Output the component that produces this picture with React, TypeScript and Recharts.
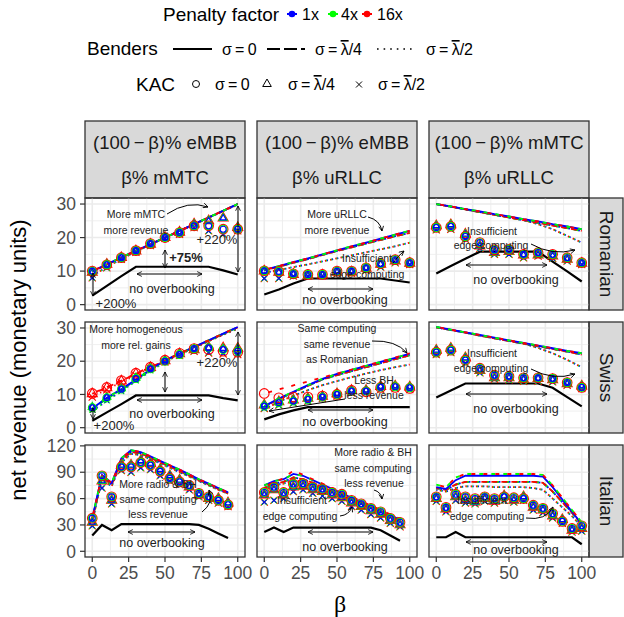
import React from 'react';
import { ComposedChart, Line, XAxis, YAxis, CartesianGrid } from 'recharts';

// beta grids
const betaTen = [0, 10, 20, 30, 40, 50, 60, 70, 80, 90, 100];
const betaIta15 = [0, 6.67, 13.33, 20, 26.67, 33.33, 40, 46.67, 53.33, 60, 66.67, 73.33, 80, 86.67, 93.33];
const betaIta16 = [0, 6.67, 13.33, 20, 26.67, 33.33, 40, 46.67, 53.33, 60, 66.67, 73.33, 80, 86.67, 93.33, 100];

const xTicks = [0, 25, 50, 75, 100];
const xMinor = [12.5, 37.5, 62.5, 87.5];
const yTicksSmall = [0, 10, 20, 30];
const yMinorSmall = [5, 15, 25];
const yTicksIta = [0, 30, 60, 90, 120];
const yMinorIta = [15, 45, 75, 105];

// Romanian, eMBB / mMTC
const romEmS0 = [10, 12, 14.1, 16.1, 18, 20, 22, 24, 26, 28, 30];
const romEmS4 = [9.8, 11.9, 14, 16, 18, 20, 22, 24, 26, 28, 30];
const romEmS2 = [8.6, 11.2, 13.6, 15.8, 17.9, 19.9, 21.9, 23.9, 25.9, 27.9, 29.8];
const romEmK0 = [10, 11.9, 14, 16.1, 18.2, 20, 21.5, 23.5, 23.5, 22.5, 22.5];
const romEmK4 = [9.6, 12, 14, 16, 18, 20, 21.6, 24, 25, 25.8, 23];
const romEmK2 = [8, 11, 13.5, 15.6, 17.6, 19.8, 21, 23, 22, 21, 22];
const romEmNo = [2.7, 5.6, 8.5, 11.3, 11.3, 11.3, 11.3, 11.3, 11.3, 10.2, 9];

// Romanian, eMBB / uRLLC
const romEuS0 = [10.4, 11.5, 12.7, 13.8, 15, 16.2, 17.4, 18.5, 19.7, 20.9, 22];
const romEuS4 = [10.2, 11.3, 12.5, 13.6, 14.8, 16, 17.1, 18.2, 19.3, 20.4, 21.4];
const romEuS2 = [9.5, 10.3, 11.2, 12, 12.9, 13.8, 14.7, 15.6, 16.5, 17.4, 18.5];
const romEuK0 = [10.1, 9.9, 9.2, 9, 9, 10, 10, 11, 12.2, 13.4, 12.5];
const romEuK4 = [10, 9.6, 9, 8.6, 8.8, 9.6, 9.7, 10.8, 12, 13, 12.3];
const romEuK2 = [7.8, 7.8, 8.5, 8.5, 8.6, 9.2, 9.3, 10.2, 11.2, 12.5, 12];
const romEuNo = [3, 4.5, 6.3, 7.8, 7.8, 7.8, 7.8, 7.8, 7.8, 7.2, 6.6];

// Romanian, mMTC / uRLLC
const romMuS0 = [30, 29.3, 28.5, 27.8, 27, 26.3, 25.5, 24.8, 24, 23.3, 22.5];
const romMuS4 = [30, 29.2, 28.4, 27.6, 26.8, 26, 25.2, 24.4, 23.6, 22.8, 22];
const romMuS2 = [30, 29.2, 28.4, 27.6, 26.8, 26, 25.2, 24, 22.5, 20.5, 18.5];
const romMuK0 = [23, 23.3, 20.3, 18.5, 16.4, 16.5, 15, 15.5, 15, 14, 12.5];
const romMuK4 = [23.5, 23.8, 21, 17.5, 15.5, 15.8, 14.8, 14.8, 14.5, 13.5, 12.3];
const romMuK2 = [22.3, 22.5, 19.5, 16.8, 15, 15, 14, 14.5, 13.8, 13, 12];
const romMuNo = [9.3, 11.5, 13.7, 15.8, 15.8, 15.8, 15.8, 15.8, 12.8, 9.9, 6.9];

// Swiss, eMBB / mMTC
const swiEmS0 = [5.8, 9, 11.6, 14.5, 17.5, 20.3, 22.3, 24.3, 26.3, 28.3, 30.3];
const swiEmS0Red = [10.3, 12.2, 14.2, 16.3, 18.3, 20.3, 22.3, 24.3, 26.3, 28.3, 30.3];
const swiEmS4 = [5.6, 8.8, 11.4, 14.4, 17.4, 20.2, 22.2, 24.2, 26.2, 28.2, 30.2];
const swiEmS4Red = [10.2, 12.1, 14.1, 16.2, 18.2, 20.2, 22.2, 24.2, 26.2, 28.2, 30.2];
const swiEmS2 = [5, 8, 11, 14, 17, 19.8, 22, 24, 26, 28, 29.8];
const swiEmS2Red = [9.3, 11.5, 13.7, 15.8, 17.9, 20, 22, 24, 26, 28, 29.8];
const swiEmK0 = [6, 9, 11.6, 14.8, 17.7, 20, 22, 23.8, 24, 23.5, 23];
const swiEmK0Red = [10.3, 12.1, 14.2, 16.4, 18.2, 20.3, 22.4, 23.8, 23.5, 23, 22.7];
const swiEmK4 = [6.2, 9.2, 11.8, 15, 17.8, 20.2, 22.2, 23.5, 24, 23.8, 23.8];
const swiEmK4Red = [10.2, 12, 14, 16.2, 18.1, 20.1, 22.2, 23.4, 24.2, 24, 23.9];
const swiEmK2 = [5.4, 8.2, 11, 14.2, 17.2, 19.6, 21.6, 23, 22.6, 22.4, 22.2];
const swiEmK2Red = [9.2, 11.4, 13.6, 15.7, 17.8, 19.8, 21.8, 23, 22.5, 22.2, 22];
const swiEmNo = [2.1, 4.6, 7.1, 9.7, 9.7, 9.7, 9.7, 9.7, 9.7, 8.9, 8.2];

// Swiss, eMBB / uRLLC
const swiEuS0 = [6.5, 8.8, 10.8, 12.8, 14.7, 16.2, 17.4, 18.6, 19.8, 21, 22.3];
const swiEuS0Red = [10.3, 11.5, 12.7, 13.9, 15.1, 16.3, 17.5, 18.7, 19.9, 21.1, 22.4];
const swiEuS4 = [6.3, 8.6, 10.6, 12.6, 14.5, 15.8, 17, 18.2, 19.4, 20.6, 21.8];
const swiEuS2 = [5.5, 7.8, 9.6, 11.3, 12.8, 14, 15.2, 16.3, 17.3, 18.2, 19];
const swiEuK0 = [6.5, 7.5, 8, 8.5, 9.2, 10, 11, 11, 12.2, 12.3, 12];
const swiEuK0Red = [10.3, 9, 9.2, 9.2, 9.5, 10, 11.2, 10.8, 12.1, 12.1, 11.8];
const swiEuK4 = [6.8, 7.8, 8.3, 8.8, 9.4, 10.2, 11.2, 11.2, 12.4, 12.5, 12.2];
const swiEuK2 = [5.8, 6.8, 7.4, 8, 8.8, 9.5, 10.5, 10.5, 11.5, 11.8, 11.5];
const swiEuNo = [2.5, 4, 5.2, 6.2, 6.2, 6.2, 6.2, 6.2, 6.2, 6.2, 6.2];

// Swiss, mMTC / uRLLC
const swiMuS0 = [30.3, 29.5, 28.7, 27.9, 27.1, 26.3, 25.5, 24.7, 23.9, 23.1, 22.4];
const swiMuS4 = [30.2, 29.4, 28.6, 27.7, 26.9, 26.1, 25.3, 24.5, 23.7, 22.9, 22];
const swiMuS2 = [30.2, 29.4, 28.6, 27.7, 26.9, 26.1, 25.3, 24, 22.4, 20.4, 18.2];
const swiMuK0 = [22.7, 23.3, 20.3, 17.9, 15.8, 15.5, 15, 15, 14.8, 13.6, 12.1];
const swiMuK4 = [23.3, 23.9, 21, 17.2, 15, 15, 14.5, 14.8, 14.4, 13.2, 12.5];
const swiMuK2 = [22, 22.6, 19.4, 16.5, 14.6, 14.4, 14, 14, 13.8, 12.8, 11.8];
const swiMuNo = [9.1, 11.2, 13.3, 13.3, 13.3, 13.3, 13.3, 13.3, 12, 9.2, 6.4];

// Italian, eMBB / mMTC
const itaEmS0 = [37.7, 86.9, 77.7, 106, 115, 113, 108, 103, 98, 93, 87.5, 82, 77, 72, 67];
const itaEmS4 = [36, 85, 76, 104, 113, 111.5, 106.5, 101.5, 96.5, 91.5, 86, 81, 76, 71, 66];
const itaEmS2 = [33, 82, 74, 101, 111, 109.5, 105, 100, 95, 90, 85, 80, 75, 70, 65.5];
const itaEmK0 = [37.7, 86, 62, 96, 96, 101, 98, 91, 83, 79, 75, 66, 62, 58, 53];
const itaEmK4 = [33, 80, 58, 98, 98, 103, 100, 93, 86, 81, 73, 64, 60, 60, 55];
const itaEmK2 = [29, 72, 54, 92, 90, 95, 93, 86, 80, 76, 70, 62, 58, 55, 51];
const itaEmNo = [18, 30, 24, 31, 31, 31, 31, 31, 31, 31, 31, 30, 25.7, 20.3, 15];

// Italian, eMBB / uRLLC
const itaEuS0 = [75, 80, 82, 88, 86, 81, 76, 71, 66, 61, 56, 51, 46, 41, 36];
const itaEuS0Red = [73, 79, 83, 92, 87, 82, 77, 72, 67, 62, 57, 52, 47, 42, 37];
const itaEuS4 = [72, 77, 79, 84, 82, 78, 73, 68, 63, 58.5, 54, 49, 44, 39, 35];
const itaEuS2 = [70, 75, 77, 81, 79, 75, 71, 66, 61, 56, 52, 47, 42, 38, 33];
const itaEuK0 = [67, 73, 67, 76.6, 77, 73, 71, 67, 65, 58, 54, 49, 45, 37.6, 33];
const itaEuK4 = [64, 70, 64, 73, 74, 70, 68, 64, 61, 55, 51, 46, 42, 35, 30];
const itaEuK2 = [56, 58, 60, 68, 70, 66, 63, 60, 57, 51, 47, 42, 38, 32, 28];
const itaEuNo = [22, 27, 22, 27, 27, 27, 27, 27, 27, 27, 27, 27, 24, 18, 12];

// Italian, mMTC / uRLLC
const itaMuS0 = [73, 71, 81, 86, 86, 86, 86, 86, 86, 86, 86, 85, 73, 59, 45, 31];
const itaMuS0Red = [76, 73, 84, 88, 88, 88, 88, 88, 88, 88, 88, 87, 75, 61, 47, 33];
const itaMuS4 = [72, 70, 76, 79, 79, 79, 79, 79, 79, 79, 79, 78, 68, 56, 44, 31];
const itaMuS2 = [70, 68, 72, 74, 74, 74, 73, 73, 73, 73, 72, 70, 60, 50, 40, 28];
const itaMuK0 = [62, 50, 65, 62, 60, 62, 60, 62, 61, 60, 52.5, 49, 43, 34, 26, 29];
const itaMuK4 = [60, 48, 62, 58, 56, 60, 57, 63, 58, 62, 50, 47, 40, 36, 24, 26];
const itaMuK2 = [57, 45, 58, 55, 54, 57, 55, 58, 56, 58, 47, 44, 38, 32, 22, 23];
const itaMuNo = [16, 16, 22, 16, 16, 16, 16, 16, 16, 16, 16, 16, 16, 16, 16, 8];

const colStrips = [
  ['(100\u2009\u2212\u2009\u03b2)% eMBB', '\u03b2% mMTC'],
  ['(100\u2009\u2212\u2009\u03b2)% eMBB', '\u03b2% uRLLC'],
  ['(100\u2009\u2212\u2009\u03b2)% mMTC', '\u03b2% uRLLC'],
];
const rowStrips = ['Romanian', 'Swiss', 'Italian'];

type Panel = {
  beta: number[];
  s0: number[][];
  s4: number[][];
  s2: number[][];
  k0: number[][];
  k4: number[][];
  k2: number[][];
  no: number[];
};

// each series list is [1x, 4x, 16x]
const panels: Panel[][] = [
  [
    { beta: betaTen, s0: [romEmS0, romEmS0, romEmS0], s4: [romEmS4, romEmS4, romEmS4], s2: [romEmS2, romEmS2, romEmS2], k0: [romEmK0, romEmK0, romEmK0], k4: [romEmK4, romEmK4, romEmK4], k2: [romEmK2, romEmK2, romEmK2], no: romEmNo },
    { beta: betaTen, s0: [romEuS0, romEuS0, romEuS0], s4: [romEuS4, romEuS4, romEuS4], s2: [romEuS2, romEuS2, romEuS2], k0: [romEuK0, romEuK0, romEuK0], k4: [romEuK4, romEuK4, romEuK4], k2: [romEuK2, romEuK2, romEuK2], no: romEuNo },
    { beta: betaTen, s0: [romMuS0, romMuS0, romMuS0], s4: [romMuS4, romMuS4, romMuS4], s2: [romMuS2, romMuS2, romMuS2], k0: [romMuK0, romMuK0, romMuK0], k4: [romMuK4, romMuK4, romMuK4], k2: [romMuK2, romMuK2, romMuK2], no: romMuNo },
  ],
  [
    { beta: betaTen, s0: [swiEmS0, swiEmS0, swiEmS0Red], s4: [swiEmS4, swiEmS4, swiEmS4Red], s2: [swiEmS2, swiEmS2, swiEmS2Red], k0: [swiEmK0, swiEmK0, swiEmK0Red], k4: [swiEmK4, swiEmK4, swiEmK4Red], k2: [swiEmK2, swiEmK2, swiEmK2Red], no: swiEmNo },
    { beta: betaTen, s0: [swiEuS0, swiEuS0, swiEuS0Red], s4: [swiEuS4, swiEuS4, swiEuS4], s2: [swiEuS2, swiEuS2, swiEuS2], k0: [swiEuK0, swiEuK0, swiEuK0Red], k4: [swiEuK4, swiEuK4, swiEuK4], k2: [swiEuK2, swiEuK2, swiEuK2], no: swiEuNo },
    { beta: betaTen, s0: [swiMuS0, swiMuS0, swiMuS0], s4: [swiMuS4, swiMuS4, swiMuS4], s2: [swiMuS2, swiMuS2, swiMuS2], k0: [swiMuK0, swiMuK0, swiMuK0], k4: [swiMuK4, swiMuK4, swiMuK4], k2: [swiMuK2, swiMuK2, swiMuK2], no: swiMuNo },
  ],
  [
    { beta: betaIta15, s0: [itaEmS0, itaEmS0, itaEmS0], s4: [itaEmS4, itaEmS4, itaEmS4], s2: [itaEmS2, itaEmS2, itaEmS2], k0: [itaEmK0, itaEmK0, itaEmK0], k4: [itaEmK4, itaEmK4, itaEmK4], k2: [itaEmK2, itaEmK2, itaEmK2], no: itaEmNo },
    { beta: betaIta15, s0: [itaEuS0, itaEuS0, itaEuS0Red], s4: [itaEuS4, itaEuS4, itaEuS4], s2: [itaEuS2, itaEuS2, itaEuS2], k0: [itaEuK0, itaEuK0, itaEuK0], k4: [itaEuK4, itaEuK4, itaEuK4], k2: [itaEuK2, itaEuK2, itaEuK2], no: itaEuNo },
    { beta: betaIta16, s0: [itaMuS0, itaMuS0Red, itaMuS0Red], s4: [itaMuS4, itaMuS4, itaMuS4], s2: [itaMuS2, itaMuS2, itaMuS2], k0: [itaMuK0, itaMuK0, itaMuK0], k4: [itaMuK4, itaMuK4, itaMuK4], k2: [itaMuK2, itaMuK2, itaMuK2], no: itaMuNo },
  ],
];

const COLORS = ['#0000FF', '#00FF00', '#FF0000'];
const COL_LEFT = [85, 257, 429];
const ROW_TOP = [198, 322, 445];
const PW = 160;
const PH = [112, 111, 112];
const STRIP_TOP = 121;
const YAXIS_W = 45;
const XAXIS_H = 34;
const PAD = 12; // room around the plot so edge tick labels are not cut
const PAD_R = 16;
const FONT = '"Liberation Sans", Arial, Helvetica, sans-serif';

const lineStyles = [
  { key: 's2', dash: '1.3 4', offsets: [0, 0.9, 1.8] },
  { key: 's4', dash: '6 4', offsets: [0, 1.5, 3] },
  { key: 's0', dash: '4 8', offsets: [0, 0, 8] },
];

function buildRows(p: Panel) {
  return p.beta.map((b, i) => {
    const r: any = { b, no: p.no[i] };
    (['s0', 's4', 's2', 'k0', 'k4', 'k2'] as const).forEach((k) => {
      p[k].forEach((arr, c) => {
        r[`${k}_${c}`] = arr[i];
      });
    });
    return r;
  });
}

const markerSize = [3, 3.9, 4.8];

function markerDot(shape: string, c: number) {
  const color = COLORS[c];
  const s = markerSize[c];
  return (props: any) => {
    const { cx, cy, index } = props;
    const k = `${shape}-${c}-${index}`;
    if (cx == null || cy == null || !isFinite(cx) || !isFinite(cy)) return <g key={k} />;
    if (shape === 'circle') {
      return <circle key={k} cx={cx} cy={cy} r={s} fill="none" stroke={color} strokeWidth={1.1} />;
    }
    if (shape === 'triangle') {
      const t = s * 1.2;
      const d = `M${cx},${cy - t} L${cx + t * 0.866},${cy + t * 0.5} L${cx - t * 0.866},${cy + t * 0.5} Z`;
      return <path key={k} d={d} fill="none" stroke={color} strokeWidth={1.1} />;
    }
    const h = s * 0.75;
    return (
      <path key={k} d={`M${cx - h},${cy - h} L${cx + h},${cy + h} M${cx - h},${cy + h} L${cx + h},${cy - h}`} stroke={color} strokeWidth={1.1} />
    );
  };
}

function PanelChart({ p, row, col }: { p: Panel; row: number; col: number }) {
  const left = col === 0;
  const bottom = row === 2;
  const width = PW + (left ? YAXIS_W : 0) + PAD_R;
  const height = PH[row] + 2 * PAD + (bottom ? XAXIS_H : 0);
  const ita = row === 2;
  const yDomain = ita ? [-6.5, 121] : [-1.6, 31.8];
  const yTicks = ita ? yTicksIta : yTicksSmall;
  const yMinor = ita ? yMinorIta : yMinorSmall;
  const rows = buildRows(p);
  const tickStyle = { fontSize: 17.5, fill: '#4D4D4D', fontFamily: FONT };
  return (
    <div style={{ position: 'absolute', left: COL_LEFT[col] - (left ? YAXIS_W : 0), top: ROW_TOP[row] - PAD, width, height }}>
      <ComposedChart width={width} height={height} data={rows} margin={{ top: PAD, right: PAD_R, bottom: PAD, left: 0 }}>
        <CartesianGrid horizontalValues={yMinor} verticalValues={xMinor} stroke="#EBEBEB" strokeWidth={0.8} fill="none" />
        <CartesianGrid horizontalValues={yTicks} verticalValues={xTicks} stroke="#EBEBEB" strokeWidth={1.6} fill="none" />
        <XAxis
          type="number"
          dataKey="b"
          domain={[-5, 105]}
          ticks={xTicks}
          interval={0}
          hide={!bottom}
          height={XAXIS_H}
          axisLine={false}
          tickSize={5}
          tickMargin={5}
          tickLine={{ stroke: '#333333', strokeWidth: 1.2 }}
          tick={tickStyle}
          allowDataOverflow
        />
        <YAxis
          type="number"
          domain={yDomain}
          ticks={yTicks}
          interval={0}
          hide={!left}
          width={YAXIS_W}
          axisLine={false}
          tickSize={5}
          tickMargin={4}
          tickLine={{ stroke: '#333333', strokeWidth: 1.2 }}
          tick={tickStyle}
          allowDataOverflow
        />
        <Line dataKey="no" type="linear" stroke="#000000" strokeWidth={2.2} dot={false} activeDot={false} isAnimationActive={false} />
        {lineStyles.map((ls) =>
          [0, 1, 2].map((c) => (
            <Line
              key={`${ls.key}_${c}`}
              dataKey={`${ls.key}_${c}`}
              type="linear"
              stroke={COLORS[c]}
              strokeWidth={1.8}
              strokeDasharray={ls.key === 's0' && c === 0 ? undefined : ls.dash}
              strokeDashoffset={ls.offsets[c]}
              dot={false}
              activeDot={false}
              isAnimationActive={false}
            />
          ))
        )}
        {[
          ['k2', 'cross'],
          ['k4', 'triangle'],
          ['k0', 'circle'],
        ].map(([k, shape]) =>
          [2, 1, 0].map((c) => (
            <Line
              key={`${k}_${c}`}
              dataKey={`${k}_${c}`}
              type="linear"
              stroke="none"
              dot={markerDot(shape, c)}
              activeDot={false}
              isAnimationActive={false}
            />
          ))
        )}
      </ComposedChart>
    </div>
  );
}

type Txt = { t: string; x: number; y: number; s?: number; w?: string };
const annoText: Txt[] = [
  { t: 'More mMTC', x: 136, y: 214 },
  { t: 'more revenue', x: 136, y: 230 },
  { t: '+75%', x: 186, y: 257, s: 13, w: 'bold' },
  { t: '+220%', x: 217, y: 239, s: 13 },
  { t: 'no overbooking', x: 172, y: 289, s: 12.5 },
  { t: '+200%', x: 116, y: 303, s: 13 },
  { t: 'More uRLLC', x: 337, y: 214 },
  { t: 'more revenue', x: 337, y: 230 },
  { t: 'Insufficient', x: 367, y: 258 },
  { t: 'edge computing', x: 367, y: 274 },
  { t: 'no overbooking', x: 345, y: 300, s: 12.5 },
  { t: 'Insufficient', x: 492, y: 231 },
  { t: 'edge computing', x: 491, y: 245 },
  { t: 'no overbooking', x: 516, y: 280, s: 12.5 },
  { t: 'More homogeneous', x: 136, y: 329 },
  { t: 'more rel. gains', x: 136, y: 345 },
  { t: '+220%', x: 217, y: 362, s: 13 },
  { t: 'no overbooking', x: 172, y: 414, s: 12.5 },
  { t: '+200%', x: 114, y: 425, s: 13 },
  { t: 'Same computing', x: 337, y: 328 },
  { t: 'same revenue', x: 337, y: 344 },
  { t: 'as Romanian', x: 337, y: 359 },
  { t: 'Less BH', x: 374, y: 380 },
  { t: 'less revenue', x: 374, y: 395 },
  { t: 'no overbooking', x: 345, y: 422, s: 12.5 },
  { t: 'Insufficient', x: 492, y: 353 },
  { t: 'edge computing', x: 491, y: 368 },
  { t: 'no overbooking', x: 516, y: 409, s: 12.5 },
  { t: 'More radio & BH', x: 158, y: 484 },
  { t: 'same computing', x: 158, y: 499 },
  { t: 'less revenue', x: 158, y: 514 },
  { t: 'no overbooking', x: 162, y: 543, s: 12.5 },
  { t: 'More radio & BH', x: 373, y: 452 },
  { t: 'same computing', x: 373, y: 468 },
  { t: 'less revenue', x: 374, y: 483 },
  { t: 'Insufficient', x: 302, y: 500 },
  { t: 'edge computing', x: 300, y: 516 },
  { t: 'no overbooking', x: 345, y: 547, s: 12.5 },
  { t: 'Insufficient', x: 482, y: 500 },
  { t: 'edge computing', x: 487, y: 516 },
  { t: 'no overbooking', x: 516, y: 550, s: 12.5 },
];

const annoArrows: [string, boolean][] = [
  ['M167,214 Q188,200 208,207', false],
  ['M165,250 L165,268', true],
  ['M238,206 L238,272', true],
  ['M137,274 L202,274', true],
  ['M93,273 L93,296', true],
  ['M368,217 Q380,220 382,231', false],
  ['M393,263 Q398,256 404,251', false],
  ['M308,289 L373,289', true],
  ['M531,244 Q552,256 575,250', false],
  ['M466,265 L547,265', true],
  ['M165,372 L165,392', true],
  ['M238,332 L238,395', true],
  ['M137,400 L202,400', true],
  ['M93,408 L93,419', true],
  ['M372,341 Q396,340 407,353', false],
  ['M345,399 L269,411', false],
  ['M308,410 L373,410', true],
  ['M531,369 Q553,381 575,374', false],
  ['M466,394 L547,394', true],
  ['M202,512 Q214,503 209,490', false],
  ['M128,532 L195,532', true],
  ['M374,490 Q381,492 382,499', false],
  ['M340,516 Q349,515 352,507', false],
  ['M308,532 L373,532', true],
  ['M526,518 Q546,521 553,507', false],
  ['M466,542 L547,542', true],
];

function Sigma({ x, y, frac }: { x: number; y: number; frac?: string }) {
  return (
    <text x={x} y={y} fontSize={16} fill="#000">
      {'\u03c3\u2009=\u2009'}
      {frac ? (
        <>
          <tspan textDecoration="overline">{'\u03bb'}</tspan>
          {frac}
        </>
      ) : (
        '0'
      )}
    </text>
  );
}

function Legend() {
  return (
    <g fontFamily={FONT}>
      <text x={163} y={21} fontSize={19}>Penalty factor</text>
      {[292, 333, 367].map((x, i) => (
        <g key={x}>
          <line x1={x - 5} x2={x + 5} y1={14} y2={14} stroke={COLORS[i]} strokeWidth={2} />
          <circle cx={x} cy={14} r={3.3} fill={COLORS[i]} />
        </g>
      ))}
      <text x={302} y={20} fontSize={16}>1x</text>
      <text x={341} y={20} fontSize={16}>4x</text>
      <text x={377} y={20} fontSize={16}>16x</text>

      <text x={87} y={55} fontSize={19}>Benders</text>
      <line x1={173} x2={212} y1={49} y2={49} stroke="#000" strokeWidth={2} />
      <Sigma x={222} y={55} />
      <line x1={267} x2={305} y1={49} y2={49} stroke="#000" strokeWidth={2} strokeDasharray="13 4" />
      <Sigma x={315} y={55} frac="/4" />
      <line x1={377} x2={416} y1={49} y2={49} stroke="#000" strokeWidth={1.6} strokeDasharray="1.6 5" />
      <Sigma x={426} y={55} frac="/2" />

      <text x={136} y={91} fontSize={19}>KAC</text>
      <circle cx={196} cy={84} r={3.5} fill="none" stroke="#000" strokeWidth={1} />
      <Sigma x={215} y={90} />
      <path d="M267,79 L271.3,86.5 L262.7,86.5 Z" fill="none" stroke="#000" strokeWidth={1} />
      <Sigma x={288} y={90} frac="/4" />
      <path d="M356,81.5 L362,87.5 M356,87.5 L362,81.5" stroke="#000" strokeWidth={1} />
      <Sigma x={378} y={90} frac="/2" />
    </g>
  );
}

export default function App() {
  return (
    <div style={{ position: 'absolute', left: 0, top: 0, width: 624, height: 617, background: '#FFFFFF', fontFamily: FONT, overflow: 'hidden' }}>
      <svg width={624} height={617} style={{ position: 'absolute', left: 0, top: 0 }}>
        <Legend />
        {colStrips.map((lines, c) => (
          <g key={c} fontFamily={FONT}>
            <rect x={COL_LEFT[c]} y={STRIP_TOP} width={PW} height={ROW_TOP[0] - STRIP_TOP} fill="#D9D9D9" stroke="#333333" strokeWidth={1.3} />
            <text x={COL_LEFT[c] + PW / 2} y={142} fontSize={18.5} fill="#1A1A1A" textAnchor="middle" dominantBaseline="central">{lines[0]}</text>
            <text x={COL_LEFT[c] + PW / 2} y={177} fontSize={18.5} fill="#1A1A1A" textAnchor="middle" dominantBaseline="central">{lines[1]}</text>
          </g>
        ))}
        {rowStrips.map((name, r) => (
          <g key={name} fontFamily={FONT}>
            <rect x={589} y={ROW_TOP[r]} width={34} height={PH[r]} fill="#D9D9D9" stroke="#333333" strokeWidth={1.3} />
            <text
              x={606}
              y={ROW_TOP[r] + PH[r] / 2}
              fontSize={19}
              fill="#1A1A1A"
              textAnchor="middle"
              dominantBaseline="central"
              transform={`rotate(90 606 ${ROW_TOP[r] + PH[r] / 2})`}
            >
              {name}
            </text>
          </g>
        ))}
        <text x={18} y={360} fontSize={22} textAnchor="middle" dominantBaseline="central" transform="rotate(-90 18 360)" fontFamily={FONT}>
          net revenue (monetary units)
        </text>
        <text x={340} y={604} fontSize={24} textAnchor="middle" dominantBaseline="central" fontFamily='"Liberation Serif", "DejaVu Serif", serif'>
          {'\u03b2'}
        </text>
      </svg>

      {panels.map((rowPanels, r) => rowPanels.map((p, c) => <PanelChart key={`${r}-${c}`} p={p} row={r} col={c} />))}

      <svg width={624} height={617} style={{ position: 'absolute', left: 0, top: 0, pointerEvents: 'none' }}>
        <defs>
          <marker id="ah" viewBox="0 0 10 10" refX="9" refY="5" markerWidth="6" markerHeight="6" orient="auto-start-reverse" markerUnits="userSpaceOnUse">
            <path d="M1,1 L9,5 L1,9" fill="none" stroke="#000" strokeWidth={1.4} />
          </marker>
        </defs>
        {ROW_TOP.map((t, r) =>
          COL_LEFT.map((l, c) => (
            <rect key={`${r}-${c}`} x={l} y={t} width={PW} height={PH[r]} fill="none" stroke="#333333" strokeWidth={1.3} />
          ))
        )}
        {annoArrows.map(([d, both], i) => (
          <path key={i} d={d} fill="none" stroke="#000" strokeWidth={1} markerEnd="url(#ah)" markerStart={both ? 'url(#ah)' : undefined} />
        ))}
        {annoText.map((a, i) => (
          <text
            key={i}
            x={a.x}
            y={a.y}
            fontSize={a.s ?? 10.5}
            fontWeight={a.w ?? 'normal'}
            fill="#222"
            textAnchor="middle"
            dominantBaseline="central"
            fontFamily={FONT}
          >
            {a.t}
          </text>
        ))}
      </svg>
    </div>
  );
}
